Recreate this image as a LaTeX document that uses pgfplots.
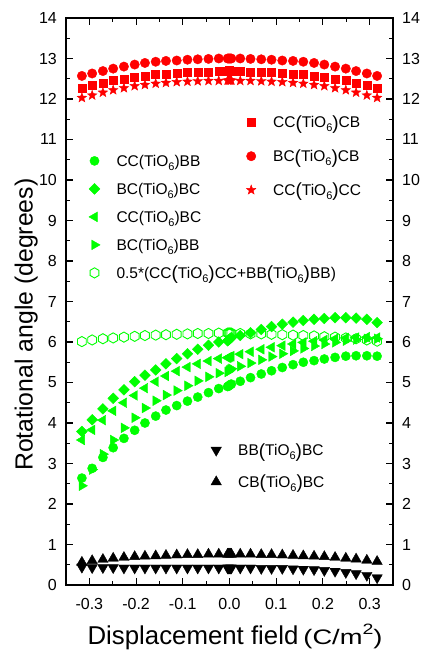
\documentclass[border=0pt]{standalone}
\usepackage{fontspec}
\setmainfont{Liberation Sans}
\usepackage{graphicx}
\usepackage{pgfplots}
\usepackage{pgfplotstable}
\pgfplotsset{compat=1.18}
\usetikzlibrary{plotmarks}
\definecolor{ored}{RGB}{255,0,0}
\definecolor{ogreen}{RGB}{0,255,0}

% open hexagon and filled star marks
\pgfdeclareplotmark{hexagon}{%
  \pgfpathmoveto{\pgfqpointpolar{30}{\pgfplotmarksize}}%
  \pgfpathlineto{\pgfqpointpolar{90}{\pgfplotmarksize}}%
  \pgfpathlineto{\pgfqpointpolar{150}{\pgfplotmarksize}}%
  \pgfpathlineto{\pgfqpointpolar{210}{\pgfplotmarksize}}%
  \pgfpathlineto{\pgfqpointpolar{270}{\pgfplotmarksize}}%
  \pgfpathlineto{\pgfqpointpolar{330}{\pgfplotmarksize}}%
  \pgfpathclose\pgfusepathqstroke}
\pgfdeclareplotmark{fstar}{%
  \pgfpathmoveto{\pgfqpointpolar{90}{\pgfplotmarksize}}%
  \pgfpathlineto{\pgfqpointpolar{126}{0.42\pgfplotmarksize}}%
  \pgfpathlineto{\pgfqpointpolar{162}{\pgfplotmarksize}}%
  \pgfpathlineto{\pgfqpointpolar{198}{0.42\pgfplotmarksize}}%
  \pgfpathlineto{\pgfqpointpolar{234}{\pgfplotmarksize}}%
  \pgfpathlineto{\pgfqpointpolar{270}{0.42\pgfplotmarksize}}%
  \pgfpathlineto{\pgfqpointpolar{306}{\pgfplotmarksize}}%
  \pgfpathlineto{\pgfqpointpolar{342}{0.42\pgfplotmarksize}}%
  \pgfpathlineto{\pgfqpointpolar{18}{\pgfplotmarksize}}%
  \pgfpathlineto{\pgfqpointpolar{54}{0.42\pgfplotmarksize}}%
  \pgfpathclose\pgfusepathqfillstroke}

\newcommand{\sub}[1]{\raisebox{-4pt}{\fontsize{11}{11}\selectfont #1}}
\newcommand{\bl}{\raisebox{-1.5pt}{\fontsize{19}{19}\selectfont(}}
\newcommand{\br}{\raisebox{-1.5pt}{\fontsize{19}{19}\selectfont)}}

% x, red circ/sq/star, green circ/diam/left/right/hex, black down/up
\pgfplotstableread{
x      rc    rs    rst   gc   gd   gl   gr   gh   bd   bu
-0.316 12.57 12.27 12.03 2.64 3.79 3.58 2.45 6.01 0.44 0.56
-0.294 12.63 12.33 12.09 2.88 4.08 3.83 2.85 6.05 0.43 0.60
-0.271 12.69 12.40 12.16 3.15 4.35 4.07 3.23 6.08 0.43 0.63
-0.249 12.75 12.46 12.22 3.39 4.61 4.30 3.58 6.10 0.43 0.66
-0.226 12.80 12.50 12.27 3.62 4.82 4.50 3.88 6.12 0.42 0.68
-0.203 12.85 12.54 12.32 3.82 5.02 4.68 4.13 6.14 0.42 0.70
-0.181 12.89 12.57 12.35 4.00 5.18 4.86 4.37 6.16 0.42 0.71
-0.158 12.92 12.60 12.38 4.17 5.31 5.02 4.55 6.17 0.42 0.72
-0.136 12.94 12.62 12.40 4.32 5.46 5.16 4.69 6.18 0.42 0.73
-0.113 12.95 12.64 12.42 4.43 5.59 5.28 4.80 6.19 0.42 0.74
-0.090 12.97 12.65 12.43 4.54 5.71 5.38 4.92 6.20 0.42 0.75
-0.068 12.98 12.66 12.44 4.64 5.82 5.46 5.04 6.21 0.42 0.75
-0.045 12.99 12.67 12.45 4.75 5.92 5.53 5.14 6.21 0.42 0.76
-0.023 13.00 12.68 12.45 4.85 6.00 5.59 5.23 6.22 0.42 0.76
-0.004 13.00 12.69 12.46 4.90 6.03 5.61 5.26 6.22 0.42 0.76
-0.002 13.00 12.69 12.46 4.91 6.05 5.62 5.28 6.22 0.42 0.76
0.000  13.00 12.70 12.46 4.93 6.07 5.63 5.30 6.22 0.42 0.76
0.002  13.00 12.69 12.46 4.95 6.09 5.64 5.32 6.22 0.42 0.76
0.004  13.00 12.69 12.46 4.96 6.11 5.65 5.34 6.22 0.42 0.76
0.023  13.00 12.68 12.45 5.03 6.16 5.70 5.40 6.21 0.42 0.76
0.045  12.99 12.67 12.45 5.12 6.23 5.76 5.48 6.20 0.42 0.76
0.068  12.98 12.66 12.44 5.21 6.31 5.82 5.56 6.20 0.41 0.75
0.090  12.97 12.65 12.43 5.29 6.38 5.87 5.64 6.19 0.41 0.75
0.113  12.95 12.64 12.42 5.37 6.44 5.91 5.71 6.18 0.41 0.74
0.136  12.94 12.62 12.40 5.44 6.49 5.95 5.78 6.17 0.40 0.73
0.158  12.92 12.60 12.38 5.50 6.53 5.99 5.84 6.16 0.39 0.72
0.181  12.89 12.57 12.35 5.54 6.56 6.02 5.90 6.15 0.38 0.71
0.203  12.85 12.54 12.32 5.58 6.58 6.05 5.95 6.13 0.36 0.70
0.226  12.80 12.50 12.27 5.62 6.60 6.08 5.99 6.12 0.34 0.68
0.249  12.75 12.46 12.22 5.65 6.60 6.10 6.03 6.10 0.31 0.66
0.271  12.69 12.40 12.16 5.66 6.59 6.11 6.06 6.08 0.28 0.64
0.294  12.63 12.33 12.09 5.66 6.56 6.12 6.08 6.05 0.24 0.61
0.316  12.57 12.27 12.03 5.65 6.48 6.11 6.08 6.02 0.18 0.58
}\datatab

\begin{document}
\begin{tikzpicture}
\pgfplotsset{
  base/.style={scale only axis, width=327pt, height=567pt,
    xmin=-0.35, xmax=0.35, ymin=0, ymax=14,
    at={(0,0)}, anchor=south west},
  leg/.style={legend cell align=left,
    legend image code/.code={\path[draw=none,fill=none] (-6pt,-7pt) rectangle (6pt,7pt);
      \draw[mark repeat=1,##1] plot coordinates {(0pt,0pt)};},
    legend style={draw=none, fill=none, inner sep=0pt, anchor=north west,
      font=\fontsize{15.5}{18}\selectfont,
      nodes={inner sep=0pt, text height=17pt, text depth=6pt},
      /tikz/every odd column/.append style={column sep=16pt}}},
}
% frame, ticks, red series
\begin{axis}[base,
  xtick={-0.3,-0.2,...,0.3}, ytick={0,1,...,14},
  minor x tick num=1, minor y tick num=1,
  tick align=inside, major tick length=7pt, minor tick length=4pt,
  axis line style={line width=1.3pt}, every tick/.style={line width=1.1pt, black},
  /pgf/number format/assume math mode=true,
  tick label style={font=\fontsize{16}{19}\selectfont},
  xticklabel style={/pgf/number format/.cd, fixed, fixed zerofill, precision=1,
    /tikz/.cd, inner sep=0pt, yshift=-13.5pt},
  yticklabel style={inner sep=0pt, xshift=-9pt},
  xlabel={{\fontsize{25.8}{30}\selectfont Displacement field}\hspace{5pt}%
    \scalebox{1.3}[1]{\fontsize{21}{24}\selectfont(C/m\raisebox{10pt}{\fontsize{15}{15}\selectfont 2})}},
  xlabel style={at={(axis description cs:0.517,-0.1058)}, anchor=base},
  ylabel={\fontsize{24.8}{30}\selectfont Rotational angle (degrees)},
  ylabel style={at={(axis description cs:-0.122,0.459)}, anchor=center},
  leg, legend style={at={(axis description cs:0.5474,0.8365)}, row sep=10.8pt},
]
\addplot[only marks, mark=square*, mark size=4pt, color=ored] table[x=x,y=rs]{\datatab};
\addlegendentry{CC\bl TiO\sub{6}\br CB}
\addplot[only marks, mark=*, mark size=4.7pt, color=ored] table[x=x,y=rc]{\datatab};
\addlegendentry{BC\bl TiO\sub{6}\br CB}
\addplot[only marks, mark=fstar, mark size=5pt, color=ored] table[x=x,y=rst]{\datatab};
\addlegendentry{CC\bl TiO\sub{6}\br CC}
\end{axis}
% green series
\begin{axis}[base, hide axis, leg,
  legend style={at={(axis description cs:0.0682,0.7686)}, row sep=5pt}]
\addplot[only marks, mark=*, mark size=4.6pt, color=ogreen] table[x=x,y=gc]{\datatab};
\addlegendentry{CC(TiO\sub{6})BB}
\addplot[only marks, mark=square*, mark size=3.8pt, mark options={rotate=45}, color=ogreen] table[x=x,y=gd]{\datatab};
\addlegendentry{BC(TiO\sub{6})BC}
\addplot[only marks, mark=triangle*, mark size=5.6pt, mark options={rotate=90}, color=ogreen] table[x=x,y=gl]{\datatab};
\addlegendentry{CC(TiO\sub{6})BC}
\addplot[only marks, mark=triangle*, mark size=5.6pt, mark options={rotate=-90}, color=ogreen] table[x=x,y=gr]{\datatab};
\addlegendentry{BC(TiO\sub{6})BB}
\addplot[only marks, mark=hexagon, mark size=5.1pt, mark options={line width=0.9pt}, color=ogreen] table[x=x,y=gh]{\datatab};
\addlegendentry{0.5*(CC\bl TiO\sub{6}\br CC+BB\bl TiO\sub{6}\br BB)}
\end{axis}
% black series
\begin{axis}[base, hide axis, leg,
  legend style={at={(axis description cs:0.4404,0.2584)}, row sep=8.7pt}]
\addplot[only marks, mark=triangle*, mark size=6pt, mark options={rotate=180}, color=black] table[x=x,y=bd]{\datatab};
\addlegendentry{BB\bl TiO\sub{6}\br BC}
\addplot[only marks, mark=triangle*, mark size=6pt, color=black] table[x=x,y=bu]{\datatab};
\addlegendentry{CB\bl TiO\sub{6}\br BC}
\end{axis}
% tick labels on the right
\begin{axis}[base, xtick=\empty, ytick={0,1,...,14},
  yticklabel pos=right, axis line style={draw=none}, ytick style={draw=none},
  /pgf/number format/assume math mode=true,
  yticklabel style={font=\fontsize{16}{19}\selectfont, inner sep=0pt, xshift=9pt}]
\end{axis}
\pgfresetboundingbox
\path[use as bounding box] (-66pt,-65pt) rectangle (358pt,585pt);
\end{tikzpicture}
\end{document}
